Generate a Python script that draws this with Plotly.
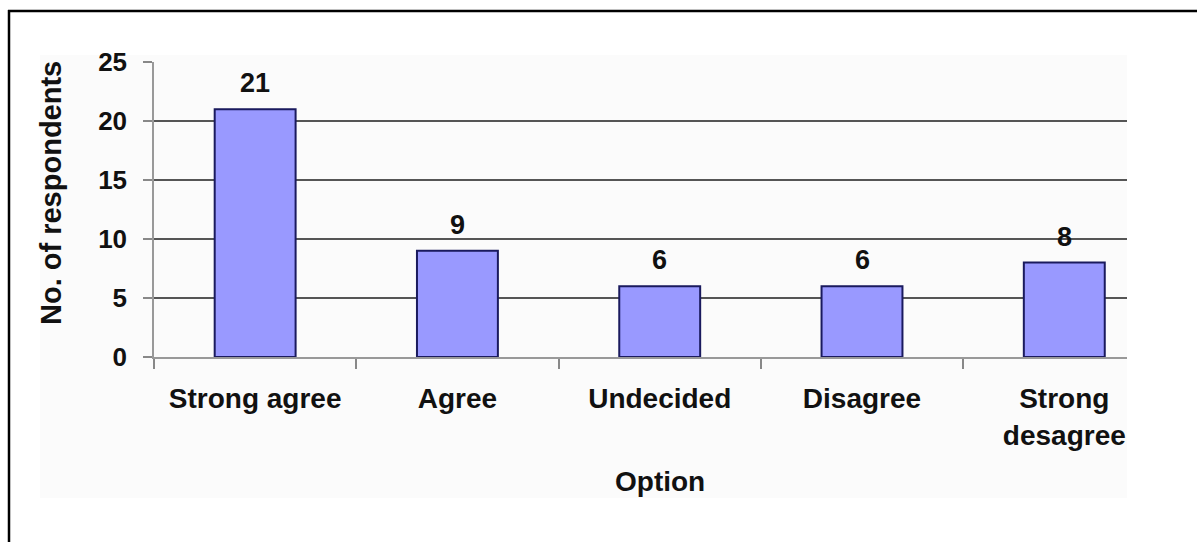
import plotly.graph_objects as go

# Survey responses
categories = ["Strong agree", "Agree", "Undecided", "Disagree", "Strong desagree"]
category_labels = ["Strong agree", "Agree", "Undecided", "Disagree", "Strong<br>desagree"]
respondents = [21, 9, 6, 6, 8]
y_ticks = [0, 5, 10, 15, 20, 25]

FONT = "Liberation Sans, Arial, sans-serif"
W, H = 1197, 542
L, R, T, B = 154, 70, 62, 185
PW, PH = W - L - R, H - T - B


def px_x(p):
    return (p - L) / PW


def px_y(p):
    return (H - B - p) / PH


fig = go.Figure()
fig.add_trace(go.Bar(
    x=categories,
    y=respondents,
    width=0.4,
    marker=dict(color="#9999FF", line=dict(color="#1a1a5e", width=2)),
    hoverinfo="skip",
))

# value labels above each bar
for c, v in zip(categories, respondents):
    fig.add_annotation(x=c, y=v, xref="x", yref="y", text=f"<b>{v}</b>",
                       showarrow=False, yanchor="bottom", yshift=9,
                       font=dict(family=FONT, size=27, color="#111"))

# axis titles
fig.add_annotation(x=categories[2], y=px_y(481), xref="x", yref="paper",
                   text="<b>Option</b>", showarrow=False, yanchor="middle",
                   font=dict(family=FONT, size=28, color="#111"))
fig.add_annotation(x=px_x(51), y=px_y(193), xref="paper", yref="paper",
                   text="<b>No. of respondents</b>", textangle=-90,
                   showarrow=False, xanchor="center", yanchor="middle",
                   font=dict(family=FONT, size=29, color="#111"))

# chart area background and frame
fig.add_shape(type="rect", xref="paper", yref="paper",
              x0=px_x(40), x1=px_x(1127), y0=px_y(498), y1=px_y(55),
              fillcolor="#fbfbfb", line=dict(width=0), layer="below")
fig.add_shape(type="line", xref="paper", yref="paper",
              x0=px_x(9), x1=px_x(9), y0=px_y(10), y1=px_y(545),
              line=dict(color="#000", width=2.5))
fig.add_shape(type="line", xref="paper", yref="paper",
              x0=px_x(8), x1=px_x(1200), y0=px_y(11), y1=px_y(11),
              line=dict(color="#000", width=2.5))

fig.update_layout(
    width=W, height=H,
    margin=dict(l=L, r=R, t=T, b=B, pad=0),
    paper_bgcolor="white",
    plot_bgcolor="rgba(0,0,0,0)",
    showlegend=False,
    xaxis=dict(
        type="category",
        range=[-0.5, 4.31],
        tickmode="array",
        tickvals=categories,
        ticktext=[f"<b>{t}</b>" for t in category_labels],
        tickson="boundaries",
        ticks="outside", ticklen=10, tickwidth=1.5, tickcolor="#888",
        showgrid=False, zeroline=False,
        showline=True, linecolor="#999", linewidth=1.5,
        tickfont=dict(family=FONT, size=28, color="#111"),
        ticklabelstandoff=16,
    ),
    yaxis=dict(
        range=[0, 25],
        tickmode="array",
        tickvals=y_ticks,
        ticktext=[f"<b>{t}</b>" for t in y_ticks],
        ticks="outside", ticklen=9, tickwidth=1.5, tickcolor="#888",
        showgrid=True, gridcolor="#555", gridwidth=1.5,
        zeroline=False,
        showline=True, linecolor="#999", linewidth=1.5,
        tickfont=dict(family=FONT, size=26, color="#111"),
        ticklabelstandoff=11,
    ),
)

fig.write_html("out.html")
